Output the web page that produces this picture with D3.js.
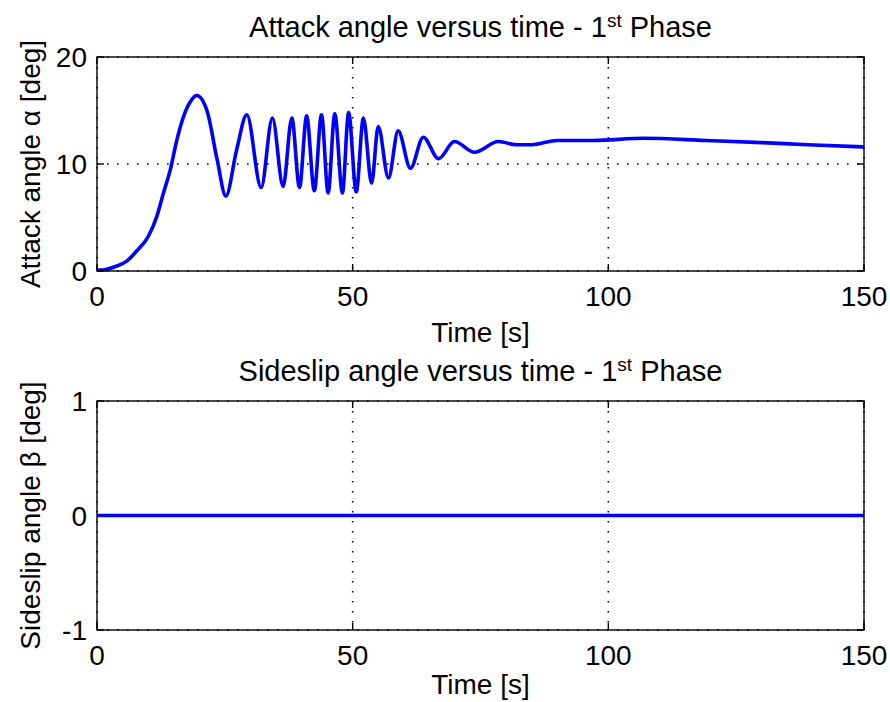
<!DOCTYPE html>
<html>
<head>
<meta charset="utf-8">
<script src="https://cdn.jsdelivr.net/npm/d3@7"></script>
<style>
    body { margin: 0; background: #fff; }
    text { font-family: "Liberation Sans", Arial, sans-serif; fill: #000; }
</style>
</head>
<body>
<svg id="chart" width="890" height="702"></svg>
<script>
// attack angle alpha [deg] vs time [s]
const attackTime = [0, 1, 3.5, 6, 8, 10, 11.7, 13, 14.3, 15.6, 16.9, 18.5, 19.5, 21.5, 23.5, 25.2, 27.3, 29.3,
    32.1, 34.3, 36.4, 38.1, 39.6, 41.0, 42.5, 43.9, 45.2, 46.5, 48.0, 49.2, 50.7, 52.1,
    53.7, 55.0, 57.0, 58.9, 61.3, 63.8, 66.8, 69.9, 73.8, 78.5, 82, 85, 90, 97, 107, 119, 130, 139, 150];
const attackAngle = [0.1, 0.1, 0.4, 1.0, 2.0, 3.2, 5.1, 7.3, 9.4, 12.2, 14.4, 16.0, 16.4, 15.0, 10.4, 7.0, 11.3, 14.6,
    7.8, 14.3, 7.9, 14.3, 7.8, 14.5, 7.5, 14.6, 7.3, 14.7, 7.3, 14.8, 7.4, 14.3,
    8.2, 13.5, 8.7, 13.1, 9.6, 12.5, 10.5, 12.1, 11.1, 12.1, 11.8, 11.8, 12.2, 12.2, 12.4, 12.2, 12.0, 11.8, 11.6];

// sideslip angle beta [deg] vs time [s]
const sideslipTime = [0, 150];
const sideslipAngle = [0, 0];

const timeTicks = [0, 50, 100, 150];
const attackTicks = [0, 10, 20];
const sideslipTicks = [-1, 0, 1];

const svg = d3.select("#chart");
const left = 97, right = 864;

function drawPanel({top, bottom, xs, ys, yDomain, yTicks, title, yLabel, xLabelOffset}) {
    const x = d3.scaleLinear().domain([0, 150]).range([left, right]);
    const y = d3.scaleLinear().domain(yDomain).range([bottom, top]);
    const g = svg.append("g");

    // dotted grid
    g.selectAll(".vgrid").data(timeTicks).enter().append("line")
        .attr("x1", d => x(d)).attr("x2", d => x(d))
        .attr("y1", top).attr("y2", bottom)
        .attr("stroke", "#000").attr("stroke-width", 1.6)
        .attr("stroke-dasharray", "1.6,8.4");
    g.selectAll(".hgrid").data(yTicks).enter().append("line")
        .attr("x1", left).attr("x2", right)
        .attr("y1", d => y(d)).attr("y2", d => y(d))
        .attr("stroke", "#000").attr("stroke-width", 1.6)
        .attr("stroke-dasharray", "1.6,8.4");

    // data line
    const line = d3.line()
        .x((d, i) => x(xs[i]))
        .y(d => y(d))
        .curve(d3.curveMonotoneX);
    g.append("path")
        .attr("d", line(ys))
        .attr("fill", "none")
        .attr("stroke", "#0000ff")
        .attr("stroke-width", 3.6);

    // box
    g.append("rect")
        .attr("x", left).attr("y", top)
        .attr("width", right - left).attr("height", bottom - top)
        .attr("fill", "none").attr("stroke", "#000").attr("stroke-width", 1.4);

    // inward ticks
    const tl = 7;
    timeTicks.forEach(t => {
        g.append("line").attr("x1", x(t)).attr("x2", x(t)).attr("y1", bottom).attr("y2", bottom - tl)
            .attr("stroke", "#000").attr("stroke-width", 1.4);
        g.append("line").attr("x1", x(t)).attr("x2", x(t)).attr("y1", top).attr("y2", top + tl)
            .attr("stroke", "#000").attr("stroke-width", 1.4);
    });
    yTicks.forEach(v => {
        g.append("line").attr("x1", left).attr("x2", left + tl).attr("y1", y(v)).attr("y2", y(v))
            .attr("stroke", "#000").attr("stroke-width", 1.4);
        g.append("line").attr("x1", right).attr("x2", right - tl).attr("y1", y(v)).attr("y2", y(v))
            .attr("stroke", "#000").attr("stroke-width", 1.4);
    });

    // tick labels
    g.selectAll(".xlab").data(timeTicks).enter().append("text")
        .attr("x", d => x(d)).attr("y", bottom + 35)
        .attr("text-anchor", "middle").attr("font-size", 28)
        .text(d => d);
    g.selectAll(".ylab").data(yTicks).enter().append("text")
        .attr("x", left - 10).attr("y", d => y(d) + 10)
        .attr("text-anchor", "end").attr("font-size", 28)
        .text(d => d);

    // axis labels
    g.append("text")
        .attr("x", (left + right) / 2).attr("y", bottom + xLabelOffset)
        .attr("text-anchor", "middle").attr("font-size", 28)
        .text("Time [s]");
    g.append("text")
        .attr("transform", `translate(40, ${(top + bottom) / 2}) rotate(-90)`)
        .attr("text-anchor", "middle").attr("font-size", 28)
        .text(yLabel);

    // title with superscript
    const t = g.append("text")
        .attr("x", (left + right) / 2).attr("y", top - 20)
        .attr("text-anchor", "middle").attr("font-size", 29);
    t.append("tspan").text(title + " - 1");
    t.append("tspan").attr("font-size", 19).attr("dy", -10).text("st");
    t.append("tspan").attr("dy", 10).text(" Phase");
}

drawPanel({
    top: 57, bottom: 271, xs: attackTime, ys: attackAngle,
    yDomain: [0, 20], yTicks: attackTicks, xLabelOffset: 71,
    title: "Attack angle versus time", yLabel: "Attack angle \u03b1 [deg]"
});
drawPanel({
    top: 401, bottom: 630, xs: sideslipTime, ys: sideslipAngle,
    yDomain: [-1, 1], yTicks: sideslipTicks, xLabelOffset: 64,
    title: "Sideslip angle versus time", yLabel: "Sideslip angle \u03b2 [deg]"
});
</script>
</body>
</html>
